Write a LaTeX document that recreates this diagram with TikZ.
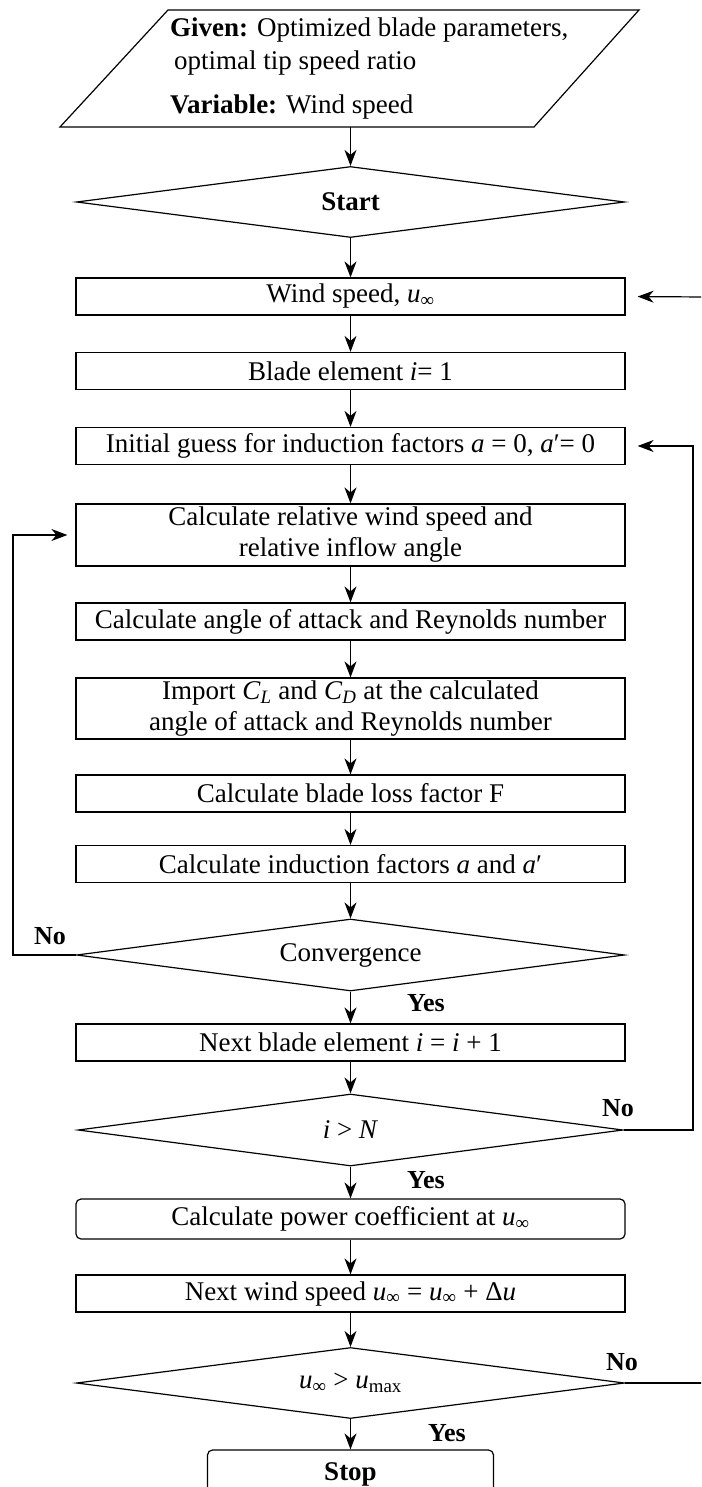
\documentclass[tikz,border=0pt]{standalone}
\usepackage{fontspec}
\setmainfont{Liberation Serif}
\usetikzlibrary{shapes.geometric,arrows.meta}
\tikzset{
  base/.style={line width=1.2pt, inner sep=0pt, align=center, font=\fontsize{27}{31}\selectfont},
  procbox/.style={base, draw, rectangle, minimum width=549pt, minimum height=37pt},
  roundbox/.style={procbox, rounded corners=5pt},
  decision/.style={base, draw, diamond, aspect=7.6, minimum width=548pt, minimum height=71pt},
  lbl/.style={inner sep=0pt, font=\fontsize{26}{29}\selectfont\bfseries},
  plain/.style={inner sep=0pt, font=\fontsize{27}{29}\selectfont, anchor=west},
  arr/.style={line width=1.2pt, -{Stealth[length=16pt,width=12pt,inset=5pt]}},
  ln/.style={line width=1.2pt}
}
\begin{document}
\begin{tikzpicture}[x=1pt,y=-1pt]
\useasboundingbox (0,0) rectangle (701,1487);
\clip (0,0) rectangle (701,1487);
\fill[white] (0,0) rectangle (701,1487);

% input parallelogram
\draw[ln] (168,10) -- (639,10) -- (534,127) -- (60,127) -- cycle;
\node[plain] (g1) at (170,30) {\textbf{Given:} Optimized blade parameters,};
\node[plain] (g2) at (174,63) {optimal tip speed ratio};
\node[plain] (g3) at (170,107) {\textbf{Variable:} Wind speed};
\coordinate (gbot) at (350.5,127);

\node[decision, font=\fontsize{27}{31}\selectfont\bfseries] (start) at (350.5,202) {Start};
\node[procbox] (wind) at (350.5,296.5) {Wind speed, \textit{u}\textsubscript{∞}};
\node[procbox] (blade) at (350.5,371) {Blade element \textit{i}= 1};
\node[procbox] (init) at (350.5,446) {Initial guess for induction factors \textit{a} = 0, \textit{a}′= 0};
\node[procbox, minimum height=62pt] (calcrel) at (350.5,535) {Calculate relative wind speed and\\relative inflow angle};
\node[procbox] (angle) at (350.5,621.5) {Calculate angle of attack and Reynolds number};
\node[procbox, minimum height=61pt] (import) at (350.5,708.5) {Import \textit{C}\textsubscript{\textit{L}} and \textit{C}\textsubscript{\textit{D}} at the calculated\\angle of attack and Reynolds number};
\node[procbox] (loss) at (350.5,793.5) {Calculate blade loss factor F};
\node[procbox] (induct) at (350.5,864) {Calculate induction factors \textit{a} and \textit{a}′};
\node[decision, minimum height=72pt] (conv) at (350.5,955) {Convergence};
\node[procbox] (next) at (350.5,1042.5) {Next blade element \textit{i} = \textit{i} + 1};
\node[decision, minimum width=545pt, minimum height=72pt] (iN) at (350.5,1130) {\textit{i} > \textit{N}};
\node[roundbox, minimum height=40pt] (power) at (350.5,1219) {Calculate power coefficient at \textit{u}\textsubscript{∞}};
\node[procbox] (nextwind) at (350.5,1293.5) {Next wind speed \textit{u}\textsubscript{∞} = \textit{u}\textsubscript{∞} + Δ\textit{u}};
\node[decision] (umax) at (350.5,1383) {\textit{u}\textsubscript{∞} > \textit{u}\textsubscript{max}};
\node[base, draw, rounded corners=5pt, minimum width=286pt, minimum height=44pt, text depth=0pt, font=\fontsize{27}{31}\selectfont\bfseries] (stop) at (350.5,1472) {Stop};

% labels
\node[lbl] (no1) at (50,936) {No};
\node[lbl] (yes1) at (426,1003) {Yes};
\node[lbl] (no2) at (618,1108) {No};
\node[lbl] (yes2) at (426,1180) {Yes};
\node[lbl] (no3) at (622,1362) {No};
\node[lbl] (yes3) at (447,1433) {Yes};

% main flow
\draw[arr] (gbot) -- (start.north);
\draw[arr] (start.south) -- (wind.north);
\draw[arr] (wind.south) -- (blade.north);
\draw[arr] (blade.south) -- (init.north);
\draw[arr] (init.south) -- (calcrel.north);
\draw[arr] (calcrel.south) -- (angle.north);
\draw[arr] (angle.south) -- (import.north);
\draw[arr] (import.south) -- (loss.north);
\draw[arr] (loss.south) -- (induct.north);
\draw[arr] (induct.south) -- (conv.north);
\draw[arr] (conv.south) -- (next.north);
\draw[arr] (next.south) -- (iN.north);
\draw[arr] (iN.south) -- (power.north);
\draw[arr] (power.south) -- (nextwind.north);
\draw[arr] (nextwind.south) -- (umax.north);
\draw[arr] (umax.south) -- (stop.north);

% loops
\coordinate (lc) at (13,955);
\draw[arr, shorten >=8pt] (conv.west) -- (lc) |- (calcrel.west);
\coordinate (rc) at (693,1130);
\draw[arr, shorten >=12pt] (iN.east) -- (rc) |- (init.east);
\coordinate (windin) at (705,297);
\draw[arr, shorten >=12pt] (windin) -- (wind.east);
\coordinate (umaxout) at (705,1383);
\draw[ln] (umax.east) -- (umaxout);
\end{tikzpicture}
\end{document}
